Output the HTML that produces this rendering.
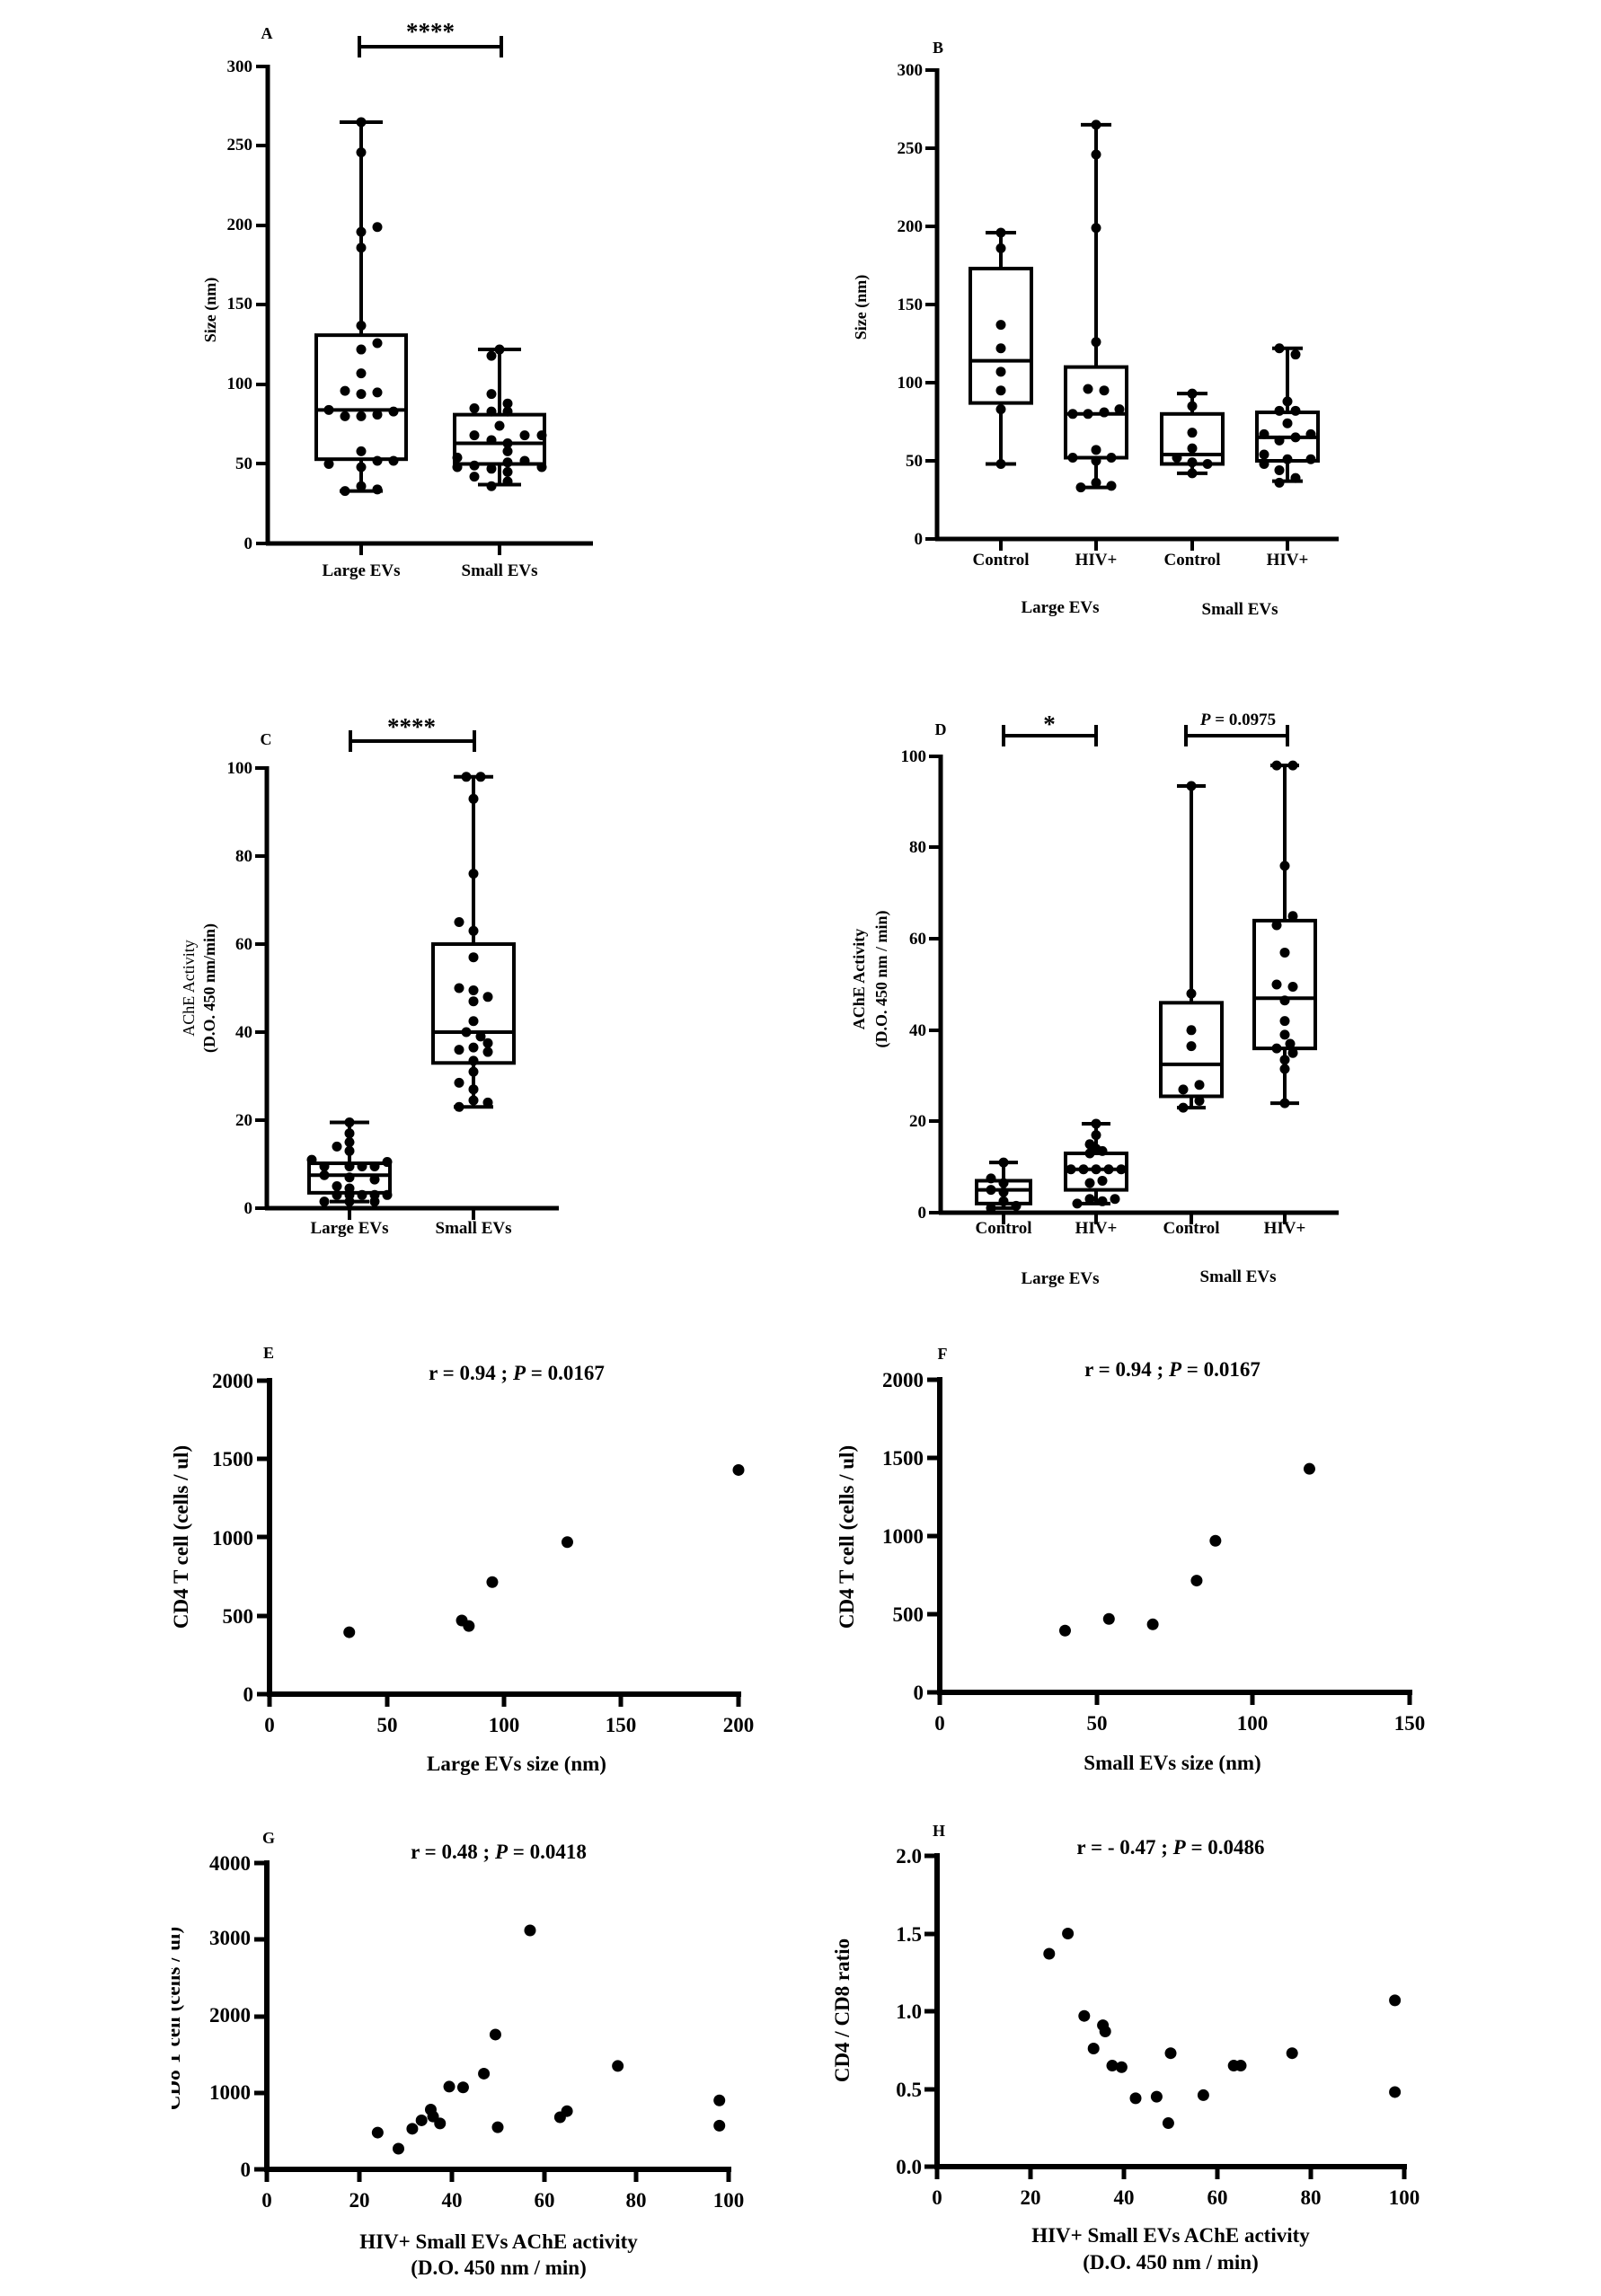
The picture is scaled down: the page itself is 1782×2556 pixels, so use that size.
<!DOCTYPE html>
<html><head><meta charset="utf-8"><style>
html,body{margin:0;padding:0;background:#fff;}
svg{display:block;}
text{font-family:"Liberation Serif",serif;font-weight:bold;fill:#000;}
</style></head><body>
<svg id="s" width="1782" height="2556" viewBox="0 0 1782 2556" xmlns="http://www.w3.org/2000/svg">
<defs><clipPath id="gclip"><rect x="191" y="1900" width="300" height="600"/></clipPath></defs>
<g id="g"></g>
<text x="297" y="43" font-size="18" text-anchor="middle">A</text>
<text x="1044" y="59" font-size="18" text-anchor="middle">B</text>
<text x="296" y="829" font-size="18" text-anchor="middle">C</text>
<text x="1047" y="818" font-size="18" text-anchor="middle">D</text>
<text x="299" y="1512" font-size="18" text-anchor="middle">E</text>
<text x="1049" y="1513" font-size="18" text-anchor="middle">F</text>
<text x="299" y="2052" font-size="18" text-anchor="middle">G</text>
<text x="1045" y="2044" font-size="18" text-anchor="middle">H</text>
<text x="479" y="44" font-size="27" text-anchor="middle">****</text>
<text x="458" y="818" font-size="27" text-anchor="middle">****</text>
<text x="1168" y="815" font-size="27" text-anchor="middle">*</text>
<text x="1378" y="807" font-size="19" text-anchor="middle"><tspan font-style="italic">P</tspan> = 0.0975</text>
<text x="402" y="641" font-size="19" text-anchor="middle">Large EVs</text>
<text x="556" y="641" font-size="19" text-anchor="middle">Small EVs</text>
<text transform="translate(240,345) rotate(-90)" font-size="18" text-anchor="middle">Size (nm)</text>
<text x="1114" y="629" font-size="19" text-anchor="middle">Control</text>
<text x="1220" y="629" font-size="19" text-anchor="middle">HIV+</text>
<text x="1327" y="629" font-size="19" text-anchor="middle">Control</text>
<text x="1433" y="629" font-size="19" text-anchor="middle">HIV+</text>
<text x="1180" y="682" font-size="19" text-anchor="middle">Large EVs</text>
<text x="1380" y="684" font-size="19" text-anchor="middle">Small EVs</text>
<text transform="translate(964,342) rotate(-90)" font-size="18" text-anchor="middle">Size (nm)</text>
<text x="389" y="1373" font-size="19" text-anchor="middle">Large EVs</text>
<text x="527" y="1373" font-size="19" text-anchor="middle">Small EVs</text>
<text transform="translate(216,1100) rotate(-90)" font-size="18" style="font-weight:normal" text-anchor="middle">AChE Activity</text>
<text transform="translate(239,1100) rotate(-90)" font-size="18" text-anchor="middle">(D.O. 450 nm/min)</text>
<text x="1117" y="1373" font-size="19" text-anchor="middle">Control</text>
<text x="1220" y="1373" font-size="19" text-anchor="middle">HIV+</text>
<text x="1326" y="1373" font-size="19" text-anchor="middle">Control</text>
<text x="1430" y="1373" font-size="19" text-anchor="middle">HIV+</text>
<text x="1180" y="1429" font-size="19" text-anchor="middle">Large EVs</text>
<text x="1378" y="1427" font-size="19" text-anchor="middle">Small EVs</text>
<text transform="translate(962,1090) rotate(-90)" font-size="18" text-anchor="middle">AChE Activity</text>
<text transform="translate(987,1090) rotate(-90)" font-size="18" text-anchor="middle">(D.O. 450 nm / min)</text>
<text x="575" y="1536" font-size="23" text-anchor="middle">r = 0.94 ; <tspan font-style="italic">P</tspan> = 0.0167</text>
<text x="575" y="1971" font-size="23" text-anchor="middle">Large EVs size (nm)</text>
<text transform="translate(209,1711) rotate(-90)" font-size="23" text-anchor="middle">CD4 T cell (cells / ul)</text>
<text x="1305" y="1532" font-size="23" text-anchor="middle">r = 0.94 ; <tspan font-style="italic">P</tspan> = 0.0167</text>
<text x="1305" y="1970" font-size="23" text-anchor="middle">Small EVs size (nm)</text>
<text transform="translate(950,1711) rotate(-90)" font-size="23" text-anchor="middle">CD4 T cell (cells / ul)</text>
<text x="555" y="2069" font-size="23" text-anchor="middle">r = 0.48 ; <tspan font-style="italic">P</tspan> = 0.0418</text>
<text x="555" y="2503" font-size="23" text-anchor="middle">HIV+ Small EVs AChE activity</text>
<text x="555" y="2532" font-size="23" text-anchor="middle">(D.O. 450 nm / min)</text>
<g clip-path="url(#gclip)"><text transform="translate(200,2247) rotate(-90)" font-size="23" text-anchor="middle">CD8 T cell (cells / ul)</text></g>
<text x="1303" y="2064" font-size="23" text-anchor="middle">r = - 0.47 ; <tspan font-style="italic">P</tspan> = 0.0486</text>
<text x="1303" y="2496" font-size="23" text-anchor="middle">HIV+ Small EVs AChE activity</text>
<text x="1303" y="2526" font-size="23" text-anchor="middle">(D.O. 450 nm / min)</text>
<text transform="translate(945,2238) rotate(-90)" font-size="23" text-anchor="middle">CD4 / CD8 ratio</text>

<g font-size="19" text-anchor="end">
<text x="281" y="611">0</text><text x="281" y="522">50</text><text x="281" y="433">100</text><text x="281" y="344">150</text><text x="281" y="256">200</text><text x="281" y="167">250</text><text x="281" y="80">300</text>
<text x="1027" y="606">0</text><text x="1027" y="519">50</text><text x="1027" y="432">100</text><text x="1027" y="345">150</text><text x="1027" y="258">200</text><text x="1027" y="171">250</text><text x="1027" y="84">300</text>
<text x="281" y="1351">0</text><text x="281" y="1253">20</text><text x="281" y="1155">40</text><text x="281" y="1057">60</text><text x="281" y="959">80</text><text x="281" y="861">100</text>
<text x="1031" y="1356">0</text><text x="1031" y="1254">20</text><text x="1031" y="1153">40</text><text x="1031" y="1051">60</text><text x="1031" y="949">80</text><text x="1031" y="848">100</text>
</g>
<g font-size="23" text-anchor="end">
<text x="282" y="1894">0</text><text x="282" y="1807">500</text><text x="282" y="1720">1000</text><text x="282" y="1632">1500</text><text x="282" y="1545">2000</text>
<text x="1028" y="1892">0</text><text x="1028" y="1805">500</text><text x="1028" y="1718">1000</text><text x="1028" y="1631">1500</text><text x="1028" y="1544">2000</text>
<text x="279" y="2423">0</text><text x="279" y="2337">1000</text><text x="279" y="2251">2000</text><text x="279" y="2165">3000</text><text x="279" y="2082">4000</text>
<text x="1026" y="2420">0.0</text><text x="1026" y="2334">0.5</text><text x="1026" y="2247">1.0</text><text x="1026" y="2161">1.5</text><text x="1026" y="2074">2.0</text>
</g>
<g font-size="23" text-anchor="middle">
<text x="300" y="1928">0</text><text x="431" y="1928">50</text><text x="561" y="1928">100</text><text x="691" y="1928">150</text><text x="822" y="1928">200</text>
<text x="1046" y="1926">0</text><text x="1221" y="1926">50</text><text x="1394" y="1926">100</text><text x="1569" y="1926">150</text>
<text x="297" y="2457">0</text><text x="400" y="2457">20</text><text x="503" y="2457">40</text><text x="606" y="2457">60</text><text x="708" y="2457">80</text><text x="811" y="2457">100</text>
<text x="1043" y="2454">0</text><text x="1147" y="2454">20</text><text x="1251" y="2454">40</text><text x="1355" y="2454">60</text><text x="1459" y="2454">80</text><text x="1563" y="2454">100</text>
</g>
</svg>
<script>
var NS="http://www.w3.org/2000/svg",G=document.getElementById("g");
function el(t,a){var e=document.createElementNS(NS,t);for(var k in a)e.setAttribute(k,a[k]);G.appendChild(e);return e;}
function L(x1,y1,x2,y2,w){el("line",{x1:x1,y1:y1,x2:x2,y2:y2,stroke:"#000","stroke-width":w||4,"stroke-linecap":"butt"});}
function C(x,y,r){el("circle",{cx:x,cy:y,r:r||5.5,fill:"#000"});}
function boxAxis(ax,y0,ytop,xend,ticks,cats){
  L(ax,ytop-2,ax,y0+2,5);L(ax-2,y0,xend,y0,5);
  ticks.forEach(function(t){L(ax-13,t,ax,t,4);});
  cats.forEach(function(c){L(c,y0,c,y0+13,4);});
}
function box(cx,f,hw,cap,wl,q1,med,q3,wh,pts){
  L(cx,f(wh),cx,f(q3),4);L(cx,f(q1),cx,f(wl),4);
  L(cx-cap,f(wh),cx+cap,f(wh),4);L(cx-cap,f(wl),cx+cap,f(wl),4);
  el("rect",{x:cx-hw,y:f(q3),width:2*hw,height:f(q1)-f(q3),fill:"none",stroke:"#000","stroke-width":4});
  L(cx-hw,f(med),cx+hw,f(med),4);
  pts.forEach(function(p){C(cx+p[0],f(p[1]));});
}
function brk(x1,x2,y){L(x1,y,x2,y,4);L(x1,y-12,x1,y+12,4);L(x2,y-12,x2,y+12,4);}
var fA=function(v){return 605-v*1.77;};
boxAxis(298,605,74,660,[605,516,428,339,251,162,74],[402,556]);
box(402,fA,50,24,33,53,84,131,265,[[0,265],[0,246],[0,196],[18,199],[0,186],[0,137],[0,122],[18,126],[0,107],[-18,96],[0,94],[18,95],[-36,84],[-18,80],[0,80],[18,81],[36,83],[0,58],[-36,50],[0,48],[18,52],[36,52],[0,36],[-18,33],[18,34]]);
box(556,fA,50,24,37,50,63,81,122,[[0,122],[-9,118],[-9,94],[9,88],[-28,85],[-9,83],[9,83],[0,74],[-28,68],[28,68],[47,68],[-9,65],[9,63],[9,58],[-47,54],[-47,48],[-28,49],[-9,47],[9,51],[28,52],[47,48],[-28,42],[9,45],[9,39],[-9,36]]);
brk(400,558,52);
var fB=function(v){return 600-v*1.74;};
boxAxis(1043,600,78,1490,[600,513,426,339,252,165,78],[1114,1220,1327,1433]);
box(1114,fB,34,17,48,87,114,173,196,[[0,196],[0,186],[0,137],[0,122],[0,107],[0,95],[0,83],[0,48]]);
box(1220,fB,34,17,33,52,80,110,265,[[0,265],[0,246],[0,199],[0,126],[-9,96],[9,95],[-26,80],[-9,80],[9,81],[26,83],[0,57],[-26,52],[0,50],[17,52],[0,36],[-17,33],[17,34]]);
box(1327,fB,34,17,42,48,54,80,93,[[0,93],[0,85],[0,68],[0,58],[-17,52],[0,49],[17,48],[0,42]]);
box(1433,fB,34,17,37,50,65,81,122,[[-9,122],[9,118],[0,88],[-9,82],[9,82],[0,74],[-26,67],[26,67],[-9,63],[9,65],[-26,54],[-26,48],[0,51],[26,51],[-9,44],[9,39],[-9,36]]);
var fC=function(v){return 1345-v*4.9;};
boxAxis(297,1345,855,622,[1345,1247,1149,1051,953,855],[389,527]);
box(389,fC,45,22,1.5,3.5,7.5,10.2,19.5,[[0,19.5],[0,17],[0,15],[-14,14],[0,13],[-42,11],[42,10.5],[-28,9.5],[0,9.5],[14,9.5],[28,9.5],[-28,7.5],[0,7],[28,6.5],[-14,5],[0,4.5],[-14,3],[0,3],[14,3],[28,3],[42,3],[-28,1.5],[0,1.5],[28,1.5]]);
box(527,fC,45,22,23,33,40,60,98,[[-8,98],[8,98],[0,93],[0,76],[-16,65],[0,63],[0,57],[-16,50],[0,49.5],[16,48],[0,47],[0,42.5],[-8,40],[8,39],[-16,36],[0,36.5],[16,37.5],[16,35.5],[0,33.5],[0,31],[-16,28.5],[0,27],[0,24.5],[16,24],[-16,23]]);
brk(390,528,825);
var fD=function(v){return 1350-v*5.08;};
boxAxis(1047,1350,842,1490,[1350,1248,1147,1045,943,842],[1117,1220,1326,1430]);
box(1117,fD,30,16,1,2,5,7,11,[[0,11],[-14,7.5],[0,6.5],[-14,5],[0,4.5],[0,2.5],[-14,1],[14,1.5]]);
box(1220,fD,34,16,2,5,9.5,13,19.5,[[0,19.5],[0,17],[-7,15],[0,14],[7,13.5],[-7,13],[-28,9.5],[-14,9.5],[0,9.5],[14,9.5],[28,9.5],[-7,6.5],[7,7],[-21,2],[-7,3],[7,2.5],[21,3]]);
box(1326,fD,34,16,23,25.5,32.5,46,93.5,[[0,93.5],[0,48],[0,40],[0,36.5],[-9,27],[9,28],[-9,23],[9,24.5]]);
box(1430,fD,34,16,24,36,47,64,98,[[-9,98],[9,98],[0,76],[9,65],[-9,63],[0,57],[-9,50],[9,49.5],[0,46.5],[0,42],[0,39],[6,37],[-9,36],[9,35],[0,33.5],[0,31.5],[0,24]]);
brk(1117,1220,819);brk(1320,1433,819);
function sc(ax,y0,ytop,xend,xt,yt,fx,fy,pts){
  L(ax,ytop-3,ax,y0+3,6);L(ax-3,y0,xend+3,y0,6);
  yt.forEach(function(t){L(ax-14,t,ax,t,5);});
  xt.forEach(function(t){L(t,y0,t,y0+14,5);});
  pts.forEach(function(p){C(fx(p[0]),fy(p[1]),6.5);});
}
sc(300,1886,1537,822,[300,431,561,691,822],[1886,1799,1711,1624,1537],function(x){return 300+x*2.61;},function(y){return 1886-y*0.1745;},[[34,395],[82,470],[85,435],[95,715],[127,970],[200,1430]]);
sc(1046,1884,1536,1569,[1046,1221,1394,1569],[1884,1797,1710,1623,1536],function(x){return 1046+x*3.487;},function(y){return 1884-y*0.174;},[[40,395],[54,470],[68,435],[82,715],[88,970],[118,1430]]);
sc(297,2415,2074,811,[297,400,503,606,708,811],[2415,2330,2245,2159,2074],function(x){return 297+x*5.14;},function(y){return 2415-y*0.08525;},[[24,480],[28.5,270],[31.5,530],[33.5,640],[35.5,780],[36,690],[37.5,600],[39.5,1080],[42.5,1070],[47,1250],[49.5,1760],[50,550],[57,3120],[63.5,680],[65,760],[76,1350],[98,900],[98,570]]);
sc(1043,2412,2066,1563,[1043,1147,1251,1355,1459,1563],[2412,2326,2239,2153,2066],function(x){return 1043+x*5.2;},function(y){return 2412-y*173;},[[24,1.37],[28,1.5],[31.5,0.97],[33.5,0.76],[35.5,0.91],[36,0.87],[37.5,0.65],[39.5,0.64],[42.5,0.44],[47,0.45],[49.5,0.28],[50,0.73],[57,0.46],[63.5,0.65],[65,0.65],[76,0.73],[98,1.07],[98,0.48]]);
</script>
</body></html>
